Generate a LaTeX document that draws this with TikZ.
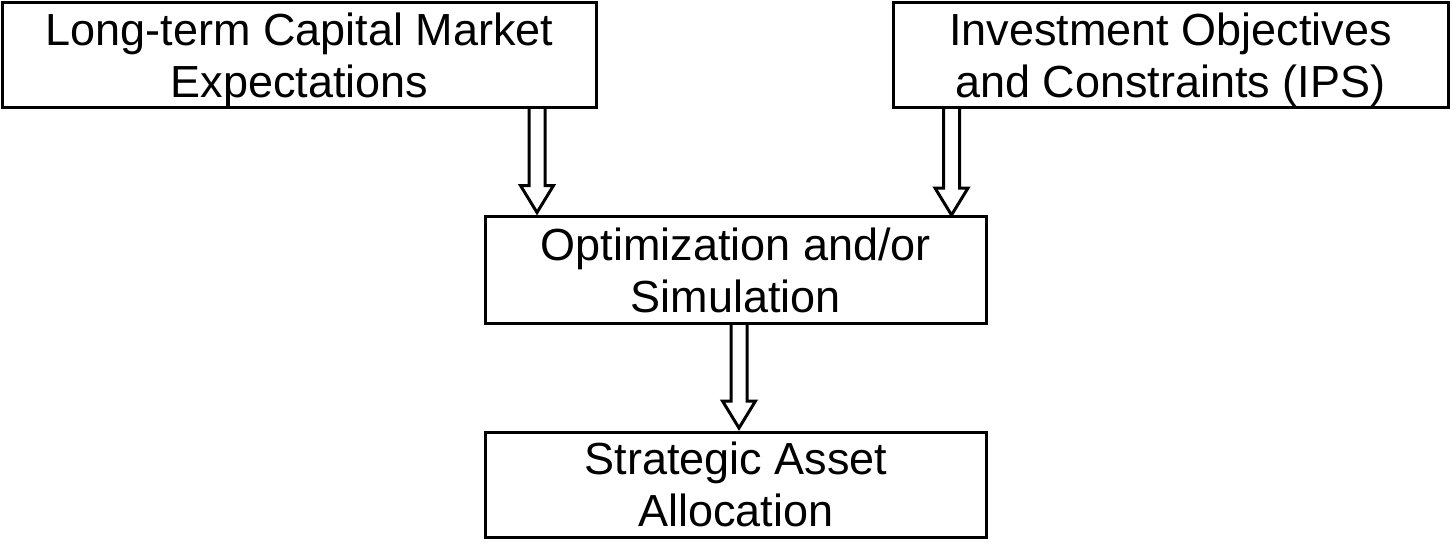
\documentclass[tikz,border=0pt]{standalone}
\usepackage{fontspec}
\setmainfont{Liberation Sans}
\usetikzlibrary{calc}

\tikzset{
  box/.style={draw, line width=1.7pt, align=center, inner sep=0pt,
    text depth=0pt, font=\fontsize{25.6}{29.6}\selectfont},
  blk/.style={draw, line width=1.7pt, line join=miter, fill=white}
}
% hollow block arrow from #1 (tail) down to #2 (tip)
\newcommand\blkarrow[2]{%
  \draw[blk] ($(#1)+(-0.16,0)$) -- ($(#2)+(-0.16,0.54)$) -- ($(#2)+(-0.33,0.54)$)
    -- (#2) -- ($(#2)+(0.33,0.54)$) -- ($(#2)+(0.16,0.54)$) -- ($(#1)+(0.16,0)$);}

\begin{document}
\begin{tikzpicture}
\useasboundingbox (0,0) rectangle (29.02,-10.84);

\node[box, minimum width=11.88cm, minimum height=2.1cm] (cme) at (5.99,-1.10) {Long-term Capital Market\\Expectations};
\node[box, minimum width=11.1cm, minimum height=2.1cm] (ips) at (23.41,-1.10) {Investment Objectives\\and Constraints (IPS)};
\node[box, minimum width=10.02cm, minimum height=2.14cm] (opt) at (14.72,-5.40) {Optimization and/or\\Simulation};
\node[box, minimum width=10.02cm, minimum height=2.1cm] (saa) at (14.72,-9.69) {Strategic Asset\\Allocation};

\coordinate (x1) at (10.74,0);
\coordinate (x2) at (19.03,0);
\coordinate (x3) at (14.78,0);

\blkarrow{cme.south -| x1}{$(opt.north -| x1)+(0,0.05)$}
\blkarrow{ips.south -| x2}{opt.north -| x2}
\blkarrow{opt.south -| x3}{$(saa.north -| x3)+(0,0.05)$}
\end{tikzpicture}
\end{document}
